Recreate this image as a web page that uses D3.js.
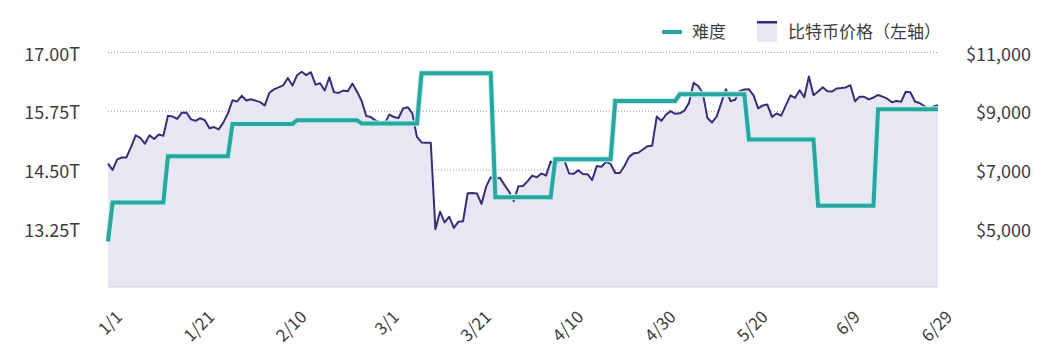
<!DOCTYPE html>
<html>
<head>
  <meta charset="utf-8">
  <script src="https://cdn.jsdelivr.net/npm/d3@7"></script>
  <style>
    body { margin: 0; background: #fff; }
    svg { display: block; font-family: "Noto Sans CJK SC", "Noto Sans", sans-serif; }
    .axis text { fill: #3d3d3d; font-size: 18px; font-family: "Noto Sans CJK SC", "Noto Sans", sans-serif; }
    .xaxis text { font-size: 17px; }
    .legend text { fill: #3d3d3d; font-size: 17px; }
  </style>
</head>
<body>
<script>
  // ---- data ----
  // daily BTC close, 2020-01-01 .. 2020-06-29
  var priceStart = "2020-01-01";
  var priceValues = [
    // Jan
    7200, 6985, 7345, 7410, 7411, 7769, 8163, 8079, 7879, 8166, 8037, 8192, 8144, 8827, 8807, 8723,
    8929, 8942, 8706, 8658, 8745, 8680, 8406, 8445, 8367, 8596, 8910, 9358, 9316, 9508, 9351,
    // Feb
    9393, 9344, 9293, 9180, 9613, 9729, 9796, 9865, 10116, 9856, 10208, 10326, 10214, 10312, 9889,
    9934, 9690, 10141, 9634, 9608, 9686, 9663, 9924, 9650, 9341, 8820, 8784, 8672, 8599,
    // Mar
    8562, 8869, 8787, 8755, 9078, 9122, 8909, 8108, 7923, 7909, 7911, 4970, 5563, 5200, 5392, 5014,
    5225, 5238, 6191, 6198, 6185, 5830, 6416, 6734, 6681, 6716, 6469, 6242, 5922, 6429, 6438,
    // Apr
    6606, 6793, 6733, 6867, 6791, 7271, 7176, 7334, 7302, 6865, 6859, 6971, 6845, 6842, 6642,
    7116, 7096, 7257, 7189, 6881, 6880, 7117, 7429, 7550, 7569, 7679, 7795, 7807, 8801, 8658,
    // May
    8864, 8988, 8897, 8912, 9003, 9268, 9951, 9842, 9593, 8756, 8601, 8804, 9269, 9733, 9328, 9377,
    9670, 9727, 9729, 9522, 9081, 9182, 9210, 8790, 8906, 8835, 9181, 9525, 9439, 9700, 9461,
    // Jun
    10167, 9529, 9656, 9800, 9665, 9653, 9758, 9771, 9795, 9870, 9321, 9480, 9475, 9386, 9450,
    9538, 9480, 9411, 9288, 9332, 9303, 9648, 9629, 9313, 9264, 9162, 9045, 9143, 9190
  ];

  // difficulty (T) and the day each value took effect
  var diffDates = ["2020-01-01", "2020-01-02", "2020-01-14", "2020-01-28", "2020-02-11", "2020-02-25",
                   "2020-03-09", "2020-03-25", "2020-04-07", "2020-04-20", "2020-05-04", "2020-05-19",
                   "2020-06-03", "2020-06-16"];
  var diffValues = [12.97, 13.80, 14.78, 15.47, 15.55, 15.48, 16.55, 13.91, 14.72, 15.96, 16.10, 15.14, 13.73, 15.78];

  var dateTicks = ["1/1", "1/21", "2/10", "3/1", "3/21", "4/10", "4/30", "5/20", "6/9", "6/29"];
  var diffTicks = [13.25, 14.50, 15.75, 17.00];
  var priceTicks = [5000, 7000, 9000, 11000];
  var endDate = "2020-06-29";

  // ---- setup ----
  var W = 1053, H = 353;
  var mLeft = 108, mRight = 938, mTop = 52, mBottom = 287;

  var parse = d3.timeParse("%Y-%m-%d");
  var DAY = 864e5;

  var x = d3.scaleTime().domain([parse(priceStart), parse(endDate)]).range([mLeft, mRight]);
  var yDiff = d3.scaleLinear().domain([12, 17]).range([mBottom, mTop]);
  var yPrice = d3.scaleLinear().domain([3000, 11000]).range([mBottom, mTop]);

  var svg = d3.select("body").append("svg").attr("width", W).attr("height", H);

  var prices = priceValues.map(function(v, i) {
    return { date: new Date(parse(priceStart).getTime() + i * DAY), value: v };
  });

  // grid
  svg.append("g")
    .attr("transform", "translate(" + mLeft + ",0)")
    .call(d3.axisLeft(yDiff).tickValues(diffTicks).tickSize(-(mRight - mLeft)).tickFormat(""))
    .call(function(g) {
      g.select(".domain").remove();
      g.selectAll("line").attr("stroke", "#9a9a9a").attr("stroke-dasharray", "1,2");
    });

  // price area + line
  svg.append("path")
    .datum(prices)
    .attr("fill", "#e8e6f2")
    .attr("d", d3.area().x(function(d) { return x(d.date); }).y0(mBottom).y1(function(d) { return yPrice(d.value); }));

  svg.append("line")
    .attr("x1", mLeft).attr("x2", mRight).attr("y1", mBottom).attr("y2", mBottom)
    .attr("stroke", "#d2d2d8");

  svg.append("path")
    .datum(prices)
    .attr("fill", "none")
    .attr("stroke", "#3a2d78")
    .attr("stroke-width", 2)
    .attr("stroke-linejoin", "round")
    .attr("d", d3.line().x(function(d) { return x(d.date); }).y(function(d) { return yPrice(d.value); }));

  // difficulty step line: each new value ramps in over one day
  var steps = [{ date: parse(diffDates[0]), value: diffValues[0] }];
  for (var i = 1; i < diffDates.length; i++) {
    var d = parse(diffDates[i]);
    steps.push({ date: new Date(d.getTime() - DAY), value: diffValues[i - 1] });
    steps.push({ date: d, value: diffValues[i] });
  }
  steps.push({ date: parse(endDate), value: diffValues[diffValues.length - 1] });

  var diffLine = d3.line().x(function(d) { return x(d.date); }).y(function(d) { return yDiff(d.value); });

  svg.append("path")
    .datum(steps)
    .attr("fill", "none")
    .attr("stroke", "#c6f1ee")
    .attr("stroke-width", 6)
    .attr("d", diffLine);

  svg.append("path")
    .datum(steps)
    .attr("fill", "none")
    .attr("stroke", "#2aa6a1")
    .attr("stroke-width", 4)
    .attr("d", diffLine);

  // axes
  svg.append("g")
    .attr("class", "axis")
    .attr("transform", "translate(" + mLeft + ",0)")
    .call(d3.axisLeft(yDiff).tickValues(diffTicks).tickSize(0).tickPadding(28)
      .tickFormat(function(d) { return d.toFixed(2) + "T"; }))
    .call(function(g) {
      g.select(".domain").remove();
      g.selectAll("text").attr("dy", "0.45em");
    });

  svg.append("g")
    .attr("class", "axis")
    .attr("transform", "translate(" + mRight + ",0)")
    .call(d3.axisRight(yPrice).tickValues(priceTicks).tickSize(0)
      .tickFormat(function(d) { return "$" + d3.format(",")(d); }))
    .call(function(g) {
      g.select(".domain").remove();
      g.selectAll("text").attr("x", 93).attr("dy", "0.45em").style("text-anchor", "end");
    });

  var tickDates = dateTicks.map(function(t) {
    var p = t.split("/");
    return new Date(2020, +p[0] - 1, +p[1]);
  });

  svg.append("g")
    .attr("class", "axis xaxis")
    .attr("transform", "translate(0," + mBottom + ")")
    .call(d3.axisBottom(x).tickValues(tickDates).tickSize(0)
      .tickFormat(function(d, i) { return dateTicks[i]; }))
    .call(function(g) {
      g.select(".domain").remove();
      g.selectAll("text")
        .attr("x", 0).attr("y", 0).attr("dy", 0)
        .attr("transform", "translate(15,31) rotate(-45)")
        .style("text-anchor", "end");
    });

  // legend
  var legend = svg.append("g").attr("class", "legend");
  legend.append("line")
    .attr("x1", 662).attr("x2", 682).attr("y1", 32).attr("y2", 32)
    .attr("stroke", "#2aa6a1").attr("stroke-width", 4);
  legend.append("text").attr("x", 692).attr("y", 38).text("难度");
  legend.append("rect")
    .attr("x", 757).attr("y", 21).attr("width", 20).attr("height", 21)
    .attr("fill", "#e8e6f2");
  legend.append("rect")
    .attr("x", 757).attr("y", 21).attr("width", 20).attr("height", 2.5)
    .attr("fill", "#3a2d78");
  legend.append("text").attr("x", 788).attr("y", 38).text("比特币价格（左轴）");
</script>
</body>
</html>
